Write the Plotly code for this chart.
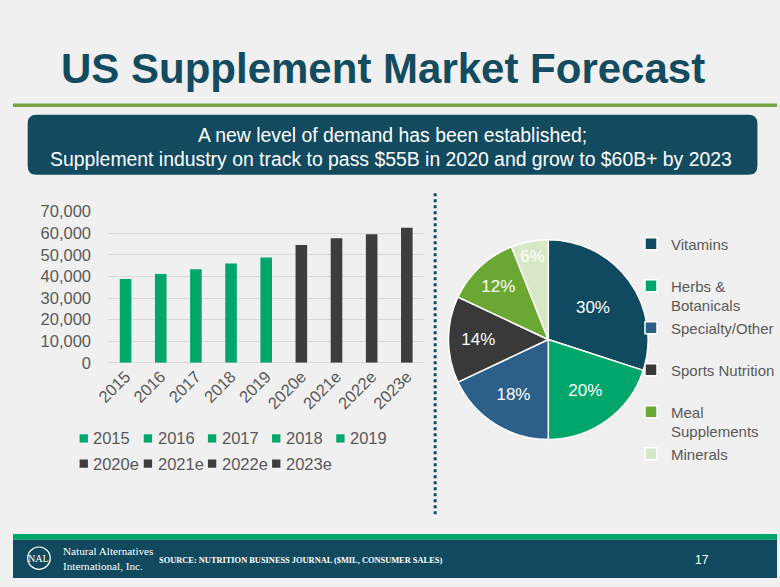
import plotly.graph_objects as go

# ---------------- data ----------------
years = ["2015", "2016", "2017", "2018", "2019", "2020e", "2021e", "2022e", "2023e"]
sales = [38800, 41100, 43300, 46000, 48700, 54500, 57700, 59500, 62500]
is_estimate = [False, False, False, False, False, True, True, True, True]

segments = ["Vitamins", "Herbs & Botanicals", "Specialty/Other", "Sports Nutrition",
            "Meal Supplements", "Minerals"]
segment_share = [30, 20, 18, 14, 12, 6]
segment_legend_text = ["Vitamins<br> ", "Herbs &<br>Botanicals", "Specialty/Other<br> ",
                       "Sports Nutrition<br> ", "Meal<br>Supplements", "Minerals<br> "]

title_text = "US Supplement Market Forecast"
banner_lines = ["A new level of demand has been established;",
                "Supplement industry on track to pass $55B in 2020 and grow to $60B+ by 2023"]
source_text = "SOURCE: NUTRITION BUSINESS JOURNAL ($MIL, CONSUMER SALES)"
company_lines = ["Natural Alternatives", "International, Inc."]
page_number = "17"

# ---------------- style ----------------
W, H = 780, 587
GREEN = "#00a66a"
DARK = "#3d3d3d"
TEAL = "#124b5f"
GRAY_TXT = "#595959"
pie_colors = ["#0f4a60", "#00a66a", "#2d5f8b", "#393939", "#6aa833", "#d6e8c6"]
FONT = "Liberation Sans, Arial, sans-serif"
SERIF = "Liberation Serif, Times New Roman, serif"


def px(x):
    return x / W


def py(y):
    return 1 - y / H


fig = go.Figure()
shapes = []
annotations = []

# bars (one trace per year so each gets its own legend entry)
n_actual = sum(1 for e in is_estimate if not e)
for i, (yr, val, est) in enumerate(zip(years, sales, is_estimate)):
    color = DARK if est else GREEN
    fig.add_trace(go.Bar(
        x=[yr], y=[val], name=yr,
        marker=dict(color=color, line=dict(width=0)),
        showlegend=False,
        hovertemplate="%{x}: %{y:,}<extra></extra>",
    ))
    # legend entry below the bar chart: swatch + label
    col = (i - n_actual) if est else i
    cy = 469 if est else 443
    left = 68 + 65.5 * col
    shapes.append(dict(type="rect", xref="paper", yref="paper",
                       x0=px(left), x1=px(left + 8.5), y0=py(cy + 4.25), y1=py(cy - 4.25),
                       fillcolor=color, line=dict(width=0)))
    annotations.append(dict(text=yr, x=px(left + 12), y=py(cy), xref="paper", yref="paper",
                            xanchor="left", yanchor="middle", showarrow=False,
                            font=dict(size=16.5, color=GRAY_TXT, family=FONT)))

fig.add_trace(go.Pie(
    labels=segment_legend_text, values=segment_share,
    sort=False, direction="clockwise", rotation=0,
    domain=dict(x=[px(443.5), px(649.5)], y=[py(444), py(238)]),
    marker=dict(colors=pie_colors, line=dict(color="white", width=1.5)),
    texttemplate="%{percent:.0%}",
    textposition="inside", insidetextorientation="horizontal",
    textfont=dict(size=17, color="white", family=FONT),
    legend="legend", hoverinfo="percent",
))

# green rule under title
shapes.append(dict(type="rect", xref="paper", yref="paper", x0=0, x1=1,
                   y0=py(101), y1=py(97.5), fillcolor="#77a443", line=dict(width=0), layer="below"))
# banner rounded rectangle
bx0, bx1, by0, by1, r = 15, 760, 109, 171, 9
path = (f"M {px(bx0 + r)},{py(by0)} L {px(bx1 - r)},{py(by0)} "
        f"Q {px(bx1)},{py(by0)} {px(bx1)},{py(by0 + r)} L {px(bx1)},{py(by1 - r)} "
        f"Q {px(bx1)},{py(by1)} {px(bx1 - r)},{py(by1)} L {px(bx0 + r)},{py(by1)} "
        f"Q {px(bx0)},{py(by1)} {px(bx0)},{py(by1 - r)} L {px(bx0)},{py(by0 + r)} "
        f"Q {px(bx0)},{py(by0)} {px(bx0 + r)},{py(by0)} Z")
shapes.append(dict(type="path", xref="paper", yref="paper", path=path,
                   fillcolor=TEAL, line=dict(width=0), layer="below"))
# dotted separator
shapes.append(dict(type="line", xref="paper", yref="paper", x0=px(431), x1=px(431),
                   y0=py(190), y1=py(522), line=dict(color=TEAL, width=3, dash="dot")))
# footer bands
shapes.append(dict(type="rect", xref="paper", yref="paper", x0=0, x1=1,
                   y0=py(547.5), y1=py(541.5), fillcolor="#00a66a", line=dict(width=0)))
shapes.append(dict(type="rect", xref="paper", yref="paper", x0=0, x1=1,
                   y0=0, y1=py(547.5), fillcolor="#114a5e", line=dict(width=0)))
# logo circle
shapes.append(dict(type="circle", xref="paper", yref="paper", x0=px(15), x1=px(38),
                   y0=py(578), y1=py(555), line=dict(color="white", width=1.2)))

annotations += [
    dict(text=f"<b>{title_text}</b>", x=px(47), y=py(61), xref="paper", yref="paper",
         xanchor="left", yanchor="middle", showarrow=False,
         font=dict(size=42, color="#134b5f", family=FONT)),
    dict(text=banner_lines[0], x=px(387), y=py(130), xref="paper", yref="paper",
         xanchor="center", yanchor="middle", showarrow=False,
         font=dict(size=19.4, color="white", family=FONT)),
    dict(text=banner_lines[1], x=px(386), y=py(154.5), xref="paper", yref="paper",
         xanchor="center", yanchor="middle", showarrow=False,
         font=dict(size=19.4, color="white", family=FONT)),
    dict(text="<br>".join(company_lines), x=px(49), y=py(567), xref="paper", yref="paper",
         xanchor="left", yanchor="middle", showarrow=False, align="left",
         font=dict(size=11.2, color="white", family=SERIF)),
    dict(text="NAL", x=px(26.5), y=py(566.5), xref="paper", yref="paper",
         xanchor="center", yanchor="middle", showarrow=False,
         font=dict(size=10, color="white", family=SERIF)),
    dict(text=f"<b>{source_text}</b>", x=px(147), y=py(568.5), xref="paper", yref="paper",
         xanchor="left", yanchor="middle", showarrow=False,
         font=dict(size=8.4, color="white", family=SERIF)),
    dict(text=page_number, x=px(703), y=py(568), xref="paper", yref="paper",
         xanchor="center", yanchor="middle", showarrow=False,
         font=dict(size=12, color="white", family=FONT)),
]

fig.update_layout(
    width=W, height=H, autosize=False,
    margin=dict(l=0, r=0, t=0, b=0),
    paper_bgcolor="#f0f0f0", plot_bgcolor="rgba(0,0,0,0)",
    font=dict(family=FONT, color=GRAY_TXT),
    barmode="overlay", bargap=0.67,
    xaxis=dict(domain=[px(97), px(420)], type="category", tickangle=-45,
               tickfont=dict(size=16.5, color=GRAY_TXT), showgrid=False, ticks="",
               showline=False, fixedrange=True),
    yaxis=dict(domain=[py(365), py(209)], range=[0, 70000], dtick=10000, tickformat=",",
               tickfont=dict(size=16.5, color=GRAY_TXT), showgrid=True, gridcolor="#d9d9d9",
               gridwidth=1, zeroline=True, zerolinecolor="#d9d9d9", zerolinewidth=1,
               showline=False, ticks="", ticklabelstandoff=16, fixedrange=True),
    legend=dict(orientation="v", x=px(631), y=py(225.3), xanchor="left", yanchor="top",
                bgcolor="rgba(0,0,0,0)", valign="top",
                font=dict(size=15, color=GRAY_TXT, family=FONT)),
    shapes=shapes, annotations=annotations,
    showlegend=True,
)

fig.write_html("out.html")
